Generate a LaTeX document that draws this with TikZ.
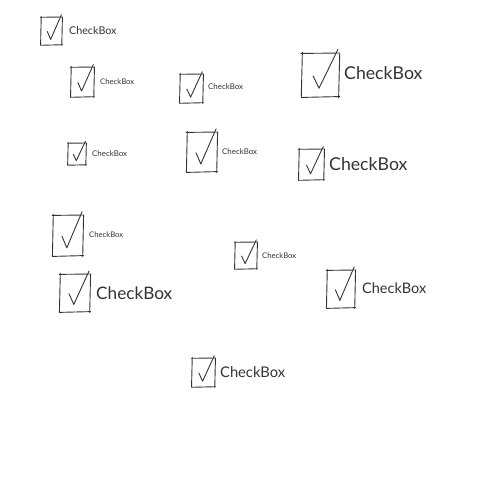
\documentclass[tikz,border=0pt]{standalone}
\usepackage{fontspec}
\setmainfont{Lato}
\definecolor{ink}{HTML}{333333}
\begin{document}
\begin{tikzpicture}[x=1pt,y=-1pt,
	sketch/.style={draw=ink,line width=0.9pt,line cap=round,line join=round},
	cbtext/.style={text=ink,anchor=west,inner sep=0pt},
	pics/tickbox/.style n args={2}{code={
		\draw[sketch] (-0.03*#1,0.01*#2) -- (1.02*#1,0) -- (0.99*#1,1.02*#2);
		\draw[sketch] (1.02*#1,0.99*#2) -- (-0.02*#1,1.01*#2) -- (0.01*#1,-0.02*#2);
		\draw[sketch] (0.3*#1,0.52*#2) -- (0.46*#1,0.8*#2) -- (0.97*#1,-0.08*#2);
	}}]
\useasboundingbox (0,0) rectangle (480,480);
% boxes: top left corner, width, height
\pic at (41,17) {tickbox={21}{28}};
\pic at (71,67) {tickbox={23}{30}};
\pic at (180,74) {tickbox={23}{29}};
\pic at (302,53) {tickbox={37}{44}};
\pic at (68,143) {tickbox={18}{22}};
\pic at (187,132) {tickbox={30}{40}};
\pic at (299,149) {tickbox={25}{31}};
\pic at (53,215) {tickbox={30}{41}};
\pic at (235,242) {tickbox={22}{27}};
\pic at (60,274) {tickbox={30}{38}};
\pic at (327,270) {tickbox={28}{38}};
\pic at (192,358) {tickbox={23}{29}};
% labels
\node[cbtext,font=\fontsize{10.7}{12}\selectfont] (cb1) at (69,31) {CheckBox};
\node[cbtext,font=\fontsize{7.7}{9}\selectfont] (cb2) at (100,82) {CheckBox};
\node[cbtext,font=\fontsize{7.9}{9}\selectfont] (cb3) at (208,87) {CheckBox};
\node[cbtext,font=\fontsize{17.7}{20}\selectfont] (cb4) at (344,73) {CheckBox};
\node[cbtext,font=\fontsize{7.9}{9}\selectfont] (cb5) at (92,154) {CheckBox};
\node[cbtext,font=\fontsize{7.9}{9}\selectfont] (cb6) at (222,152) {CheckBox};
\node[cbtext,font=\fontsize{17.7}{20}\selectfont] (cb7) at (329,164) {CheckBox};
\node[cbtext,font=\fontsize{7.7}{9}\selectfont] (cb8) at (89,235) {CheckBox};
\node[cbtext,font=\fontsize{7.7}{9}\selectfont] (cb9) at (262,256) {CheckBox};
\node[cbtext,font=\fontsize{17.2}{20}\selectfont] (cb10) at (96,293) {CheckBox};
\node[cbtext,font=\fontsize{14.5}{17}\selectfont] (cb11) at (362,288) {CheckBox};
\node[cbtext,font=\fontsize{14.7}{17}\selectfont] (cb12) at (220,372) {CheckBox};
\end{tikzpicture}
\end{document}
